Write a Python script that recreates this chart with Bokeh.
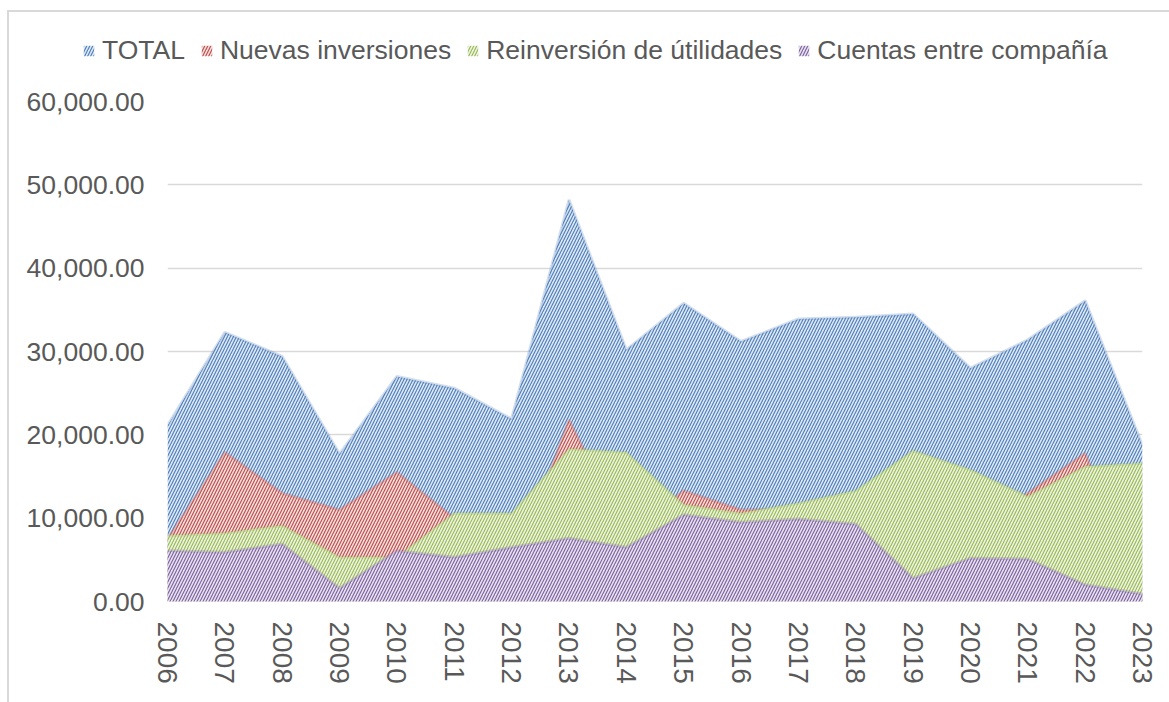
from bokeh.plotting import figure
from bokeh.layouts import column
from bokeh.models import Range1d, FixedTicker, NumeralTickFormatter, Legend, LegendItem
from bokeh.embed import file_html
from bokeh.resources import INLINE

years = list(range(2006, 2024))
year_labels = [str(y) for y in years]
total = [21100, 32300, 29400, 17700, 27000, 25600, 21900, 48200, 30200, 35800,
         31200, 33900, 34100, 34500, 28000, 31400, 36100, 18700]
nuevas = [7500, 17900, 13000, 11000, 15500, 10000, 3000, 21800, 8000, 13300,
          11000, 11000, 10000, 9000, 9000, 13000, 17800, 500]
reinversion = [7900, 8200, 9100, 5300, 5300, 10600, 10600, 18300, 17900, 11600,
               10600, 11800, 13300, 18100, 15800, 12600, 16200, 16600]
cuentas = [6100, 5900, 6900, 1600, 6100, 5300, 6500, 7600, 6500, 10400,
           9500, 9900, 9300, 2800, 5200, 5100, 2000, 900]
y_ticks = [0, 10000, 20000, 30000, 40000, 50000, 60000]

series = [
    ("TOTAL", total, "#4F81BD", "#E1E9F4"),
    ("Nuevas inversiones", nuevas, "#C0504D", "#F4E0DF"),
    ("Reinversión de útilidades", reinversion, "#9BBB59", "#EEF4E2"),
    ("Cuentas entre compañía", cuentas, "#8064A2", "#E8E3EF"),
]

FONT = "Liberation Sans"
TXT = "#595959"
W = 1160


def area_style(col, tint):
    return dict(fill_color=tint, hatch_pattern="/", hatch_color=col,
                hatch_scale=6, hatch_weight=1.2)


# ---- legend strip (page y 12..72) ----
lg = figure(width=W, height=60, output_backend="svg", toolbar_location=None,
            x_range=Range1d(0, 1), y_range=Range1d(0, 1),
            x_axis_location=None, y_axis_location=None, min_border=0)
lg.frame_align = False
lg.outline_line_color = None
lg.xgrid.visible = False
lg.ygrid.visible = False

# ---- main chart (page y 72..702) ----
p = figure(width=W, height=630, output_backend="svg", toolbar_location=None,
           x_range=Range1d(2006, 2023), y_range=Range1d(0, 60000),
           min_border_left=158, min_border_right=27, min_border_top=29,
           min_border_bottom=101)
p.frame_align = False
p.outline_line_color = None

items = []
for name, vals, col, tint in series:
    p.varea(x=years, y1=[0] * len(years), y2=vals, **area_style(col, tint))
    p.line(x=years, y=vals, line_color=col, line_alpha=0.25, line_width=3)
    # same series in the legend strip (out of its view), used for legend icons
    r = lg.varea(x=years, y1=[0] * len(years), y2=vals, **area_style(col, tint))
    items.append(LegendItem(label=name, renderers=[r]))

legend = Legend(items=items, orientation="horizontal", location=(73, 6),
                padding=0, margin=0, spacing=15, label_standoff=7,
                glyph_width=13, glyph_height=13, border_line_color=None,
                background_fill_alpha=0, label_text_font=FONT,
                label_text_font_size="26.5px", label_text_color=TXT)
lg.add_layout(legend)

p.xaxis.ticker = FixedTicker(ticks=years)
p.xaxis.major_label_overrides = {y: s for y, s in zip(years, year_labels)}
p.xaxis.major_label_orientation = "vertical"
p.yaxis.ticker = FixedTicker(ticks=y_ticks)
p.yaxis.formatter = NumeralTickFormatter(format="0,0.00")
for ax in (p.xaxis, p.yaxis):
    ax.axis_line_color = None
    ax.major_tick_line_color = None
    ax.minor_tick_line_color = None
    ax.major_tick_in = 0
    ax.major_tick_out = 0
    ax.major_label_text_font = FONT
    ax.major_label_text_font_size = "26.5px"
    ax.major_label_text_color = TXT
p.xaxis.major_label_text_font_size = "28px"
p.yaxis.major_label_standoff = 23
p.xaxis.major_label_standoff = 20

p.xgrid.visible = False
p.ygrid.grid_line_color = "#d9d9d9"
p.ygrid.grid_line_width = 1.5
p.ygrid.level = "underlay"

layout = column(lg, p, spacing=0,
                styles={"border-left": "2px solid #d9d9d9",
                        "border-top": "2px solid #d9d9d9",
                        "margin-left": "7px", "margin-top": "10px"})

open("out.html", "w").write(file_html(layout, INLINE))
